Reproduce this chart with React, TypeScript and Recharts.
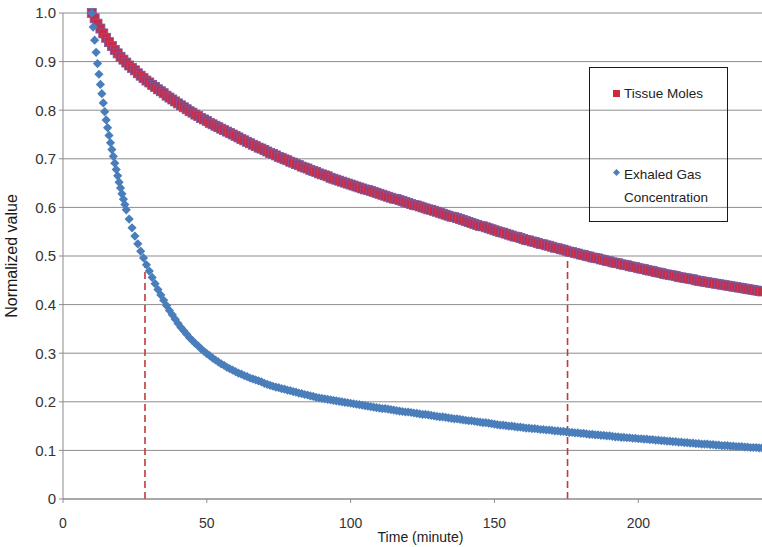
import React from 'react';
import {
  ScatterChart, Scatter, XAxis, YAxis, CartesianGrid, ReferenceLine, Legend, Label,
} from 'recharts';

// sampled every minute from t = 10
const tissueStart = 10;
const tissueStep = 1;
const tissueMoles = [
  1.000, 0.989, 0.978, 0.968, 0.958, 0.949, 0.940, 0.932, 0.924, 0.917,
  0.910, 0.904, 0.898, 0.892, 0.887, 0.882, 0.876, 0.871, 0.866, 0.861,
  0.857, 0.852, 0.848, 0.843, 0.839, 0.835, 0.830, 0.826, 0.822, 0.818,
  0.814, 0.810, 0.806, 0.802, 0.798, 0.795, 0.791, 0.788, 0.784, 0.781,
  0.778, 0.774, 0.771, 0.768, 0.765, 0.762, 0.759, 0.756, 0.753, 0.750,
  0.747, 0.744, 0.741, 0.738, 0.735, 0.732, 0.729, 0.726, 0.723, 0.721,
  0.718, 0.715, 0.712, 0.710, 0.707, 0.704, 0.702, 0.699, 0.697, 0.694,
  0.692, 0.689, 0.687, 0.684, 0.682, 0.680, 0.677, 0.675, 0.673, 0.670,
  0.668, 0.666, 0.664, 0.661, 0.659, 0.657, 0.655, 0.653, 0.651, 0.649,
  0.647, 0.645, 0.643, 0.641, 0.639, 0.637, 0.636, 0.634, 0.632, 0.630,
  0.628, 0.626, 0.624, 0.622, 0.620, 0.618, 0.617, 0.615, 0.613, 0.611,
  0.609, 0.607, 0.605, 0.604, 0.602, 0.600, 0.598, 0.596, 0.595, 0.593,
  0.591, 0.589, 0.587, 0.585, 0.583, 0.581, 0.580, 0.578, 0.576, 0.574,
  0.572, 0.570, 0.568, 0.566, 0.564, 0.562, 0.561, 0.559, 0.557, 0.555,
  0.553, 0.551, 0.549, 0.548, 0.546, 0.544, 0.542, 0.540, 0.539, 0.537,
  0.535, 0.533, 0.532, 0.530, 0.529, 0.527, 0.525, 0.524, 0.522, 0.521,
  0.519, 0.517, 0.516, 0.514, 0.513, 0.511, 0.509, 0.508, 0.506, 0.505,
  0.503, 0.502, 0.500, 0.499, 0.497, 0.496, 0.495, 0.493, 0.492, 0.490,
  0.489, 0.487, 0.486, 0.485, 0.483, 0.482, 0.481, 0.479, 0.478, 0.477,
  0.475, 0.474, 0.473, 0.471, 0.470, 0.469, 0.467, 0.466, 0.465, 0.463,
  0.462, 0.461, 0.460, 0.459, 0.457, 0.456, 0.455, 0.454, 0.453, 0.452,
  0.450, 0.449, 0.448, 0.447, 0.446, 0.445, 0.444, 0.443, 0.442, 0.441,
  0.440, 0.439, 0.438, 0.437, 0.436, 0.435, 0.434, 0.433, 0.432, 0.431,
  0.430, 0.429, 0.428, 0.427,
];

// steep start, every half minute from t = 10 to 22
const exhaledEarlyStart = 10;
const exhaledEarlyStep = 0.5;
const exhaledEarly = [
  1.000, 0.971, 0.944, 0.919, 0.896, 0.874, 0.853, 0.834, 0.815, 0.797,
  0.780, 0.764, 0.748, 0.733, 0.719, 0.705, 0.691, 0.678, 0.665, 0.652,
  0.640, 0.628, 0.617, 0.606, 0.595,
];

// then every minute from t = 23
const exhaledLateStart = 23;
const exhaledLateStep = 1;
const exhaledLate = [
  0.576, 0.558, 0.541, 0.525, 0.510, 0.496, 0.482, 0.469, 0.456, 0.443,
  0.431, 0.420, 0.409, 0.398, 0.388, 0.379, 0.370, 0.361, 0.353, 0.346,
  0.339, 0.332, 0.326, 0.320, 0.315, 0.309, 0.304, 0.299, 0.295, 0.290,
  0.286, 0.282, 0.278, 0.275, 0.271, 0.268, 0.265, 0.262, 0.259, 0.257,
  0.254, 0.252, 0.249, 0.247, 0.245, 0.243, 0.241, 0.238, 0.236, 0.234,
  0.232, 0.230, 0.229, 0.227, 0.226, 0.224, 0.223, 0.221, 0.220, 0.218,
  0.217, 0.215, 0.214, 0.212, 0.211, 0.209, 0.208, 0.207, 0.206, 0.205,
  0.204, 0.203, 0.202, 0.201, 0.200, 0.199, 0.198, 0.197, 0.196, 0.195,
  0.194, 0.193, 0.192, 0.191, 0.190, 0.189, 0.188, 0.187, 0.186, 0.186,
  0.185, 0.184, 0.183, 0.182, 0.181, 0.180, 0.179, 0.179, 0.178, 0.177,
  0.176, 0.175, 0.174, 0.174, 0.173, 0.172, 0.171, 0.170, 0.169, 0.169,
  0.168, 0.167, 0.166, 0.165, 0.165, 0.164, 0.163, 0.162, 0.161, 0.161,
  0.160, 0.159, 0.158, 0.157, 0.157, 0.156, 0.155, 0.154, 0.153, 0.152,
  0.152, 0.151, 0.150, 0.150, 0.149, 0.148, 0.148, 0.147, 0.146, 0.146,
  0.145, 0.145, 0.144, 0.143, 0.143, 0.142, 0.142, 0.141, 0.140, 0.140,
  0.139, 0.139, 0.138, 0.137, 0.137, 0.136, 0.136, 0.135, 0.135, 0.134,
  0.133, 0.133, 0.132, 0.132, 0.131, 0.131, 0.130, 0.130, 0.129, 0.128,
  0.128, 0.127, 0.127, 0.126, 0.126, 0.125, 0.125, 0.124, 0.124, 0.123,
  0.123, 0.122, 0.122, 0.121, 0.121, 0.120, 0.120, 0.119, 0.119, 0.118,
  0.118, 0.117, 0.117, 0.116, 0.116, 0.115, 0.115, 0.114, 0.114, 0.113,
  0.113, 0.113, 0.112, 0.112, 0.111, 0.111, 0.110, 0.110, 0.110, 0.109,
  0.109, 0.108, 0.108, 0.108, 0.107, 0.107, 0.106, 0.106, 0.106, 0.105,
  0.105,
];

// dashed markers where each curve is read at 0.5
const halfTimes = [28.5, 175.4];
const halfLevel = 0.5;

const xTicks = [0, 50, 100, 150, 200];
const xMax = 243;
const yTicks = [0, 0.1, 0.2, 0.3, 0.4, 0.5, 0.6, 0.7, 0.8, 0.9, 1.0];

const FONT = '"Liberation Sans", Arial, sans-serif';
const RED = '#c92c48';
const RED_EDGE = '#7a5a9e';
const BLUE = '#4a7ebb';
const GRID = '#8c8c8c';

const toPoints = (start: number, step: number, values: number[]) =>
  values.map((v, i) => ({ t: start + i * step, v }));

const tissueData = toPoints(tissueStart, tissueStep, tissueMoles);
const exhaledData = [
  ...toPoints(exhaledEarlyStart, exhaledEarlyStep, exhaledEarly),
  ...toPoints(exhaledLateStart, exhaledLateStep, exhaledLate),
];

const SquareMark = (p: any) => (
  <rect x={p.cx - 4.5} y={p.cy - 4.5} width={9} height={9} fill={RED} stroke={RED_EDGE} strokeWidth={0.8} />
);

const DiamondMark = (p: any) => (
  <path d={`M${p.cx},${p.cy - 4.6}L${p.cx + 4.6},${p.cy}L${p.cx},${p.cy + 4.6}L${p.cx - 4.6},${p.cy}Z`} fill={BLUE} />
);

const LegendBox = () => (
  <div style={{
    position: 'relative', width: 139, height: 155, boxSizing: 'border-box',
    border: '1px solid #1a1a1a', fontFamily: FONT, fontSize: 13.5, color: '#222',
  }}>
    <div style={{ position: 'absolute', left: 23, top: 22, width: 7, height: 7, background: '#d0283c' }} />
    <div style={{ position: 'absolute', left: 34, top: 17, lineHeight: '18px' }}>Tissue Moles</div>
    <svg style={{ position: 'absolute', left: 23, top: 101 }} width={7} height={7}>
      <path d="M3.5,0L7,3.5L3.5,7L0,3.5Z" fill={BLUE} />
    </svg>
    <div style={{ position: 'absolute', left: 34, top: 95, lineHeight: '23px' }}>
      Exhaled Gas<br />Concentration
    </div>
  </div>
);

export default function App() {
  return (
    <div style={{ position: 'absolute', left: 0, top: 0, width: 762, height: 547, background: '#fff' }}>
      <ScatterChart width={762} height={547} margin={{ top: 13, right: 0, bottom: 0, left: 0 }}>
        <CartesianGrid vertical={false} stroke={GRID} strokeWidth={1} />
        <XAxis
          type="number"
          dataKey="t"
          domain={[0, xMax]}
          ticks={xTicks}
          allowDataOverflow
          height={48}
          stroke={GRID}
          tickSize={4}
          tickMargin={15}
          tick={{ fontSize: 14, fill: '#333', fontFamily: FONT }}
        >
          <Label
            content={({ viewBox }: any) => (
              <text
                x={viewBox.x + viewBox.width / 2 + 8}
                y={viewBox.y + 43}
                textAnchor="middle"
                fontSize={14}
                fill="#222"
                fontFamily={FONT}
              >
                Time (minute)
              </text>
            )}
          />
        </XAxis>
        <YAxis
          type="number"
          dataKey="v"
          domain={[0, 1]}
          ticks={yTicks}
          width={63}
          stroke={GRID}
          tickSize={4}
          tickMargin={3}
          tickFormatter={(v: number) => (v === 0 ? '0' : v.toFixed(1))}
          tick={{ fontSize: 15, fill: '#333', fontFamily: FONT }}
        >
          <Label
            content={({ viewBox }: any) => {
              const cx = 11;
              const cy = viewBox.y + viewBox.height / 2;
              return (
                <text
                  x={cx}
                  y={cy}
                  transform={`rotate(-90, ${cx}, ${cy})`}
                  textAnchor="middle"
                  dominantBaseline="central"
                  fontSize={16}
                  fill="#1a1a1a"
                  fontFamily={FONT}
                >
                  Normalized value
                </text>
              );
            }}
          />
        </YAxis>
        {halfTimes.map((t) => (
          <ReferenceLine
            key={t}
            segment={[{ x: t, y: 0 }, { x: t, y: halfLevel }]}
            stroke="#c23b3b"
            strokeWidth={1.6}
            strokeDasharray="7 4"
          />
        ))}
        <Scatter name="Tissue Moles" data={tissueData} shape={SquareMark} isAnimationActive={false} />
        <Scatter name="Exhaled Gas Concentration" data={exhaledData} shape={DiamondMark} isAnimationActive={false} />
        <Legend
          layout="vertical"
          align="center"
          verticalAlign="middle"
          content={() => <LegendBox />}
          wrapperStyle={{ left: 589, top: 67, width: 139, height: 155 }}
        />
      </ScatterChart>
    </div>
  );
}
